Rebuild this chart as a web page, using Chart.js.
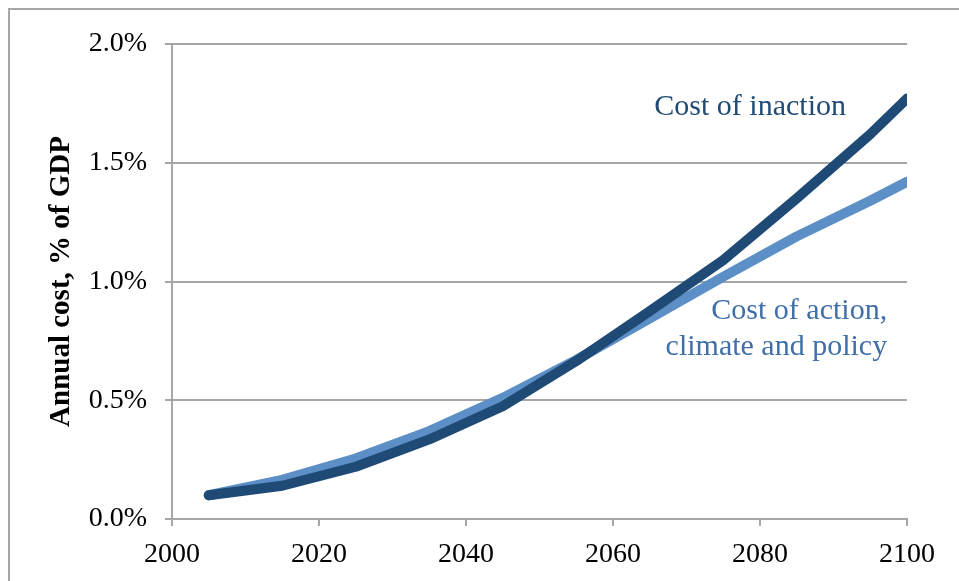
<!DOCTYPE html>
<html>
<head>
<meta charset="utf-8">
<script src="https://cdn.jsdelivr.net/npm/chart.js@4"></script>
<style>
  body { margin: 0; background: #fff; }
  #chart { display: block; }
</style>
</head>
<body>
<canvas id="chart" width="959" height="581"></canvas>
<script>
// years of the two series (every 10 years, ending at the axis edge)
const years = [2005, 2015, 2025, 2035, 2045, 2055, 2065, 2075, 2085, 2095, 2100]
// annual cost, % of GDP
const inaction = [0.10, 0.14, 0.22, 0.335, 0.475, 0.665, 0.875, 1.09, 1.35, 1.62, 1.77]
const action = [0.10, 0.165, 0.255, 0.37, 0.51, 0.67, 0.845, 1.02, 1.19, 1.34, 1.42]

const xTicks = [2000, 2020, 2040, 2060, 2080, 2100]
const yTicks = [0, 0.5, 1.0, 1.5, 2.0]

const serif = "'Liberation Serif', 'DejaVu Serif', serif"
const gridColor = '#a6a6a6'
const darkBlue = '#1f4a75'
const lightBlue = '#5b8fc6'

const toPoints = vals => vals.map((v, i) => ({ x: years[i], y: v }))

// gray frame around the whole figure
const framePlugin = {
    id: 'frame',
    beforeDraw(chart) {
        const ctx = chart.ctx
        ctx.save()
        ctx.fillStyle = '#fff'
        ctx.fillRect(0, 0, chart.width, chart.height)
        ctx.strokeStyle = gridColor
        ctx.lineWidth = 2
        ctx.strokeRect(9, 9, chart.width, chart.height)
        ctx.restore()
    }
}

// the in-chart labels next to the lines
const labelPlugin = {
    id: 'lineLabels',
    afterDatasetsDraw(chart) {
        const { ctx, scales: { x, y } } = chart
        ctx.save()
        ctx.font = '30px ' + serif
        ctx.textBaseline = 'middle'
        ctx.textAlign = 'right'
        ctx.fillStyle = darkBlue
        ctx.fillText('Cost of inaction', x.getPixelForValue(2091.7), y.getPixelForValue(1.735))
        ctx.fillStyle = '#3f6ea8'
        ctx.fillText('Cost of action,', x.getPixelForValue(2097.3), y.getPixelForValue(0.876))
        ctx.fillText('climate and policy', x.getPixelForValue(2097.3), y.getPixelForValue(0.724))
        ctx.restore()
    }
}

new Chart('chart', {
    type: 'line',
    data: {
        datasets: [
            {
                label: 'Cost of inaction',
                data: toPoints(inaction),
                borderColor: darkBlue,
                borderWidth: 10,
                pointRadius: 0,
                tension: 0,
                borderCapStyle: 'round',
                borderJoinStyle: 'round',
                clip: { left: 10, top: 10, right: 0, bottom: 10 }
            },
            {
                label: 'Cost of action, climate and policy',
                data: toPoints(action),
                borderColor: lightBlue,
                borderWidth: 10,
                pointRadius: 0,
                tension: 0,
                borderCapStyle: 'round',
                borderJoinStyle: 'round',
                clip: { left: 10, top: 10, right: 0, bottom: 10 }
            }
        ]
    },
    options: {
        responsive: false,
        animation: false,
        devicePixelRatio: 1,
        layout: { padding: { left: 0, top: 44, right: 52, bottom: 0 } },
        plugins: {
            legend: { display: false },
            tooltip: { enabled: false }
        },
        scales: {
            x: {
                type: 'linear',
                min: 2000,
                max: 2100,
                afterBuildTicks: scale => { scale.ticks = xTicks.map(v => ({ value: v })) },
                afterFit: scale => { scale.height = 62 },
                ticks: {
                    color: '#000',
                    font: { family: serif, size: 28 },
                    padding: 12,
                    maxRotation: 0,
                    callback: v => String(v)
                },
                grid: { drawOnChartArea: false, color: gridColor, lineWidth: 2, tickLength: 7 },
                border: { color: gridColor, width: 2 }
            },
            y: {
                type: 'linear',
                min: 0,
                max: 2.0,
                afterBuildTicks: scale => { scale.ticks = yTicks.map(v => ({ value: v })) },
                afterFit: scale => { scale.width = 172 },
                ticks: {
                    color: '#000',
                    font: { family: serif, size: 28 },
                    padding: 18,
                    callback: v => v.toFixed(1) + '%'
                },
                grid: { color: gridColor, lineWidth: 2, tickLength: 7 },
                border: { color: gridColor, width: 2 },
                title: {
                    display: true,
                    text: 'Annual cost, % of GDP',
                    color: '#000',
                    font: { family: serif, size: 29, weight: 'bold' },
                    padding: { top: 44, bottom: 0 }
                }
            }
        }
    },
    plugins: [framePlugin, labelPlugin]
})
</script>
</body>
</html>
